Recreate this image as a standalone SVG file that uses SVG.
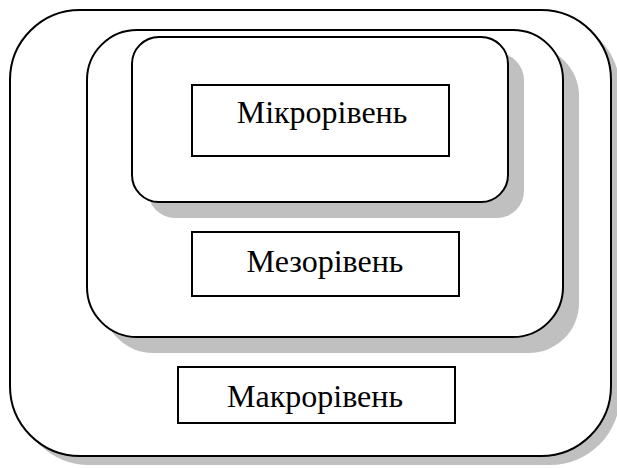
<svg xmlns="http://www.w3.org/2000/svg" width="617" height="468" viewBox="0 0 617 468">
<style>
.sh{fill:#c0c0c0;stroke:none}
.rr{fill:#ffffff;stroke:#000;stroke-width:2}
.bx{fill:#ffffff;stroke:#000;stroke-width:2}
.t{font-family:"Liberation Serif","Times New Roman",serif;font-size:32px;fill:#000;text-anchor:middle}
</style>
<rect width="617" height="468" fill="#fff"/>
<g id="outer">
<rect class="sh" x="19" y="19" width="601" height="446" rx="70" ry="70"/>
<rect class="rr" x="10" y="10" width="601" height="446" rx="70" ry="70"/>
</g>
<g id="middle">
<rect class="sh" x="103" y="46" width="476" height="307" rx="50" ry="50"/>
<rect class="rr" x="87" y="30" width="476" height="307" rx="50" ry="50"/>
</g>
<g id="inner">
<rect class="sh" x="148" y="53" width="376" height="165" rx="27" ry="27"/>
<rect class="rr" x="132" y="37" width="376" height="165" rx="27" ry="27"/>
</g>
<g id="micro">
<rect class="bx" x="192" y="85" width="257" height="71"/>
<text class="t" x="322" y="123">Мікрорівень</text>
</g>
<g id="meso">
<rect class="bx" x="192" y="232" width="267" height="64"/>
<text class="t" x="325" y="272">Мезорівень</text>
</g>
<g id="macro">
<rect class="bx" x="178" y="367" width="277" height="56"/>
<text class="t" x="315" y="407">Макрорівень</text>
</g>
<g id="connectors"/>
</svg>
